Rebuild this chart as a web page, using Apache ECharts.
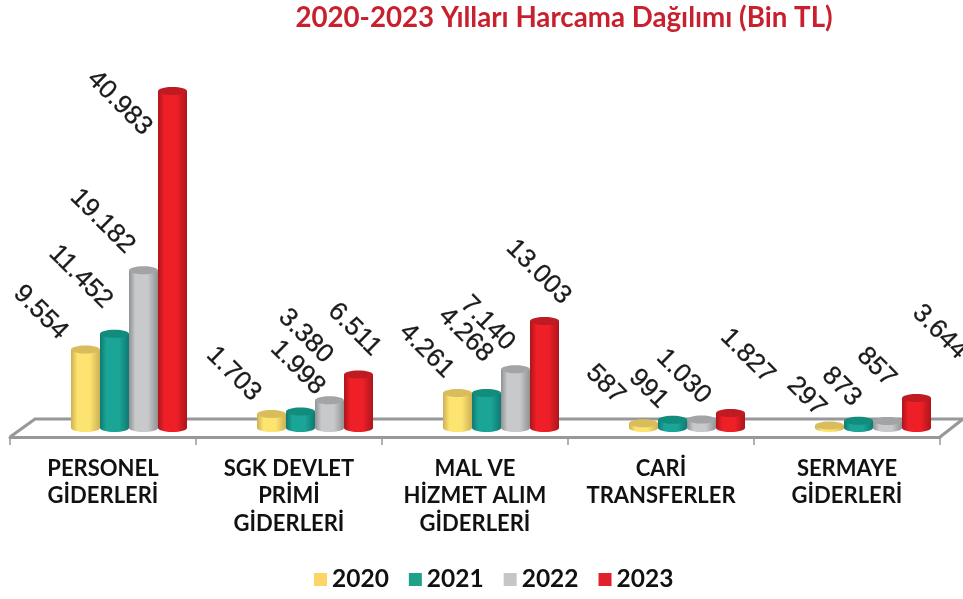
<!DOCTYPE html>
<html>
<head>
<meta charset="utf-8">
<script src="https://cdn.jsdelivr.net/npm/echarts@6/dist/echarts.min.js"></script>
<style>html,body{margin:0;padding:0;background:#fff}#chart{width:963px;height:599px}</style>
</head>
<body>
<div id="chart"></div>
<script>
const CATEGORIES = ['PERSONEL\nGİDERLERİ', 'SGK DEVLET\nPRİMİ\nGİDERLERİ', 'MAL VE\nHİZMET ALIM\nGİDERLERİ', 'CARİ\nTRANSFERLER', 'SERMAYE\nGİDERLERİ'];
const YEARS = ['2020', '2021', '2022', '2023'];
const VALUES_2020 = [9554, 1703, 4261, 587, 297];
const VALUES_2021 = [11452, 1998, 4268, 991, 873];
const VALUES_2022 = [19182, 3380, 7140, 1030, 857];
const VALUES_2023 = [40983, 6511, 13003, 1827, 3644];

// colours per series: legend, cylinder edge, cylinder middle, lid
const COLORS = [
    ['#fdd466', '#cdb055', '#fde36f', '#d9bd5c'],
    ['#1fa088', '#0e7a72', '#1ba596', '#128c7c'],
    ['#c5c6c8', '#8f9193', '#c8c9cb', '#a2a4a6'],
    ['#e0202a', '#ad151b', '#ee1f27', '#c01a22']
];

// the value labels sit by hand in the original, so each has its own nudge from the bar top
const LABEL_NUDGE = [
    [[-45, -37], [-38, -40], [-31, -42], [-38, -39], [-23, -29]],
    [[-34, -57], [-3, -44], [-21, -58], [-24, -31], [-17, -34]],
    [[-41, -49], [-24, -64], [-28, -46], [-18, -43], [-11, -54]],
    [[-53, 12], [-4, -45], [-6, -49], [17, -57], [23, -66]]
];

const FONT = 'Lato';
const LABEL_FONT = '"Liberation Sans"';
const BAR_W = 29;
const RX = 14.5;
const RY = 4;
const DEPTH_X = 26;  // floor perspective shift
const DEPTH_Y = -9;

function formatValue(v) {
    return String(v).replace(/\B(?=(\d{3})+$)/g, '.');
}

function cylinder(s) {
    return function (params, api) {
        const cat = api.value(0);
        const val = api.value(1);
        const base = api.coord([cat, 0]);
        const top = api.coord([cat, val]);
        const cx = base[0] + DEPTH_X + (s - 1.5) * BAR_W;
        const y0 = base[1] + DEPTH_Y;
        const y1 = top[1] + DEPTH_Y;
        const nudge = LABEL_NUDGE[s][cat];
        const fill = new echarts.graphic.LinearGradient(0, 0, 1, 0, [
            {offset: 0, color: COLORS[s][1]},
            {offset: 0.22, color: COLORS[s][2]},
            {offset: 0.65, color: COLORS[s][2]},
            {offset: 1, color: COLORS[s][1]}
        ]);
        return {
            type: 'group',
            children: [
                {type: 'ellipse', shape: {cx: cx, cy: y0, rx: RX, ry: RY}, style: {fill: fill}},
                {type: 'rect', shape: {x: cx - RX, y: y1, width: RX * 2, height: y0 - y1}, style: {fill: fill}},
                {type: 'ellipse', shape: {cx: cx, cy: y1, rx: RX, ry: RY}, style: {fill: COLORS[s][3]}},
                {
                    type: 'text',
                    x: cx + nudge[0],
                    y: y1 + nudge[1],
                    rotation: -Math.PI / 4,
                    z2: 10,
                    style: {
                        text: formatValue(val),
                        fontFamily: LABEL_FONT,
                        fontSize: 26,
                        fill: '#1a1a1a',
                        stroke: '#1a1a1a',
                        lineWidth: 0.3,
                        textAlign: 'center',
                        textVerticalAlign: 'middle'
                    }
                }
            ]
        };
    };
}

const myChart = echarts.init(document.getElementById('chart'));
const allValues = [VALUES_2020, VALUES_2021, VALUES_2022, VALUES_2023];

myChart.setOption({
    backgroundColor: '#fff',
    animation: false,
    title: {
        text: '2020-2023 Yılları Harcama Dağılımı (Bin TL)',
        left: 559,
        top: -1,
        textAlign: 'center',
        textStyle: {fontFamily: FONT, fontSize: 27.7, fontWeight: 'bold', color: '#c8202e'}
    },
    legend: {
        left: 314,
        top: 567,
        icon: 'rect',
        itemWidth: 13,
        itemHeight: 13,
        itemGap: 20,
        padding: 0,
        data: YEARS,
        textStyle: {fontFamily: FONT, fontSize: 24.5, fontWeight: 'bold', color: '#111'}
    },
    grid: {left: 10, right: 23, top: 67, bottom: 162},
    xAxis: {
        type: 'category',
        data: CATEGORIES,
        axisLine: {lineStyle: {color: '#96989a', width: 3}},
        axisTick: {show: true, length: 8, alignWithLabel: false, lineStyle: {color: '#96989a', width: 1.5}},
        axisLabel: {
            interval: 0,
            margin: 18,
            fontFamily: FONT,
            fontSize: 22,
            fontWeight: 'bold',
            color: '#111',
            lineHeight: 27.5
        }
    },
    yAxis: {type: 'value', min: 0, max: 45000, show: false, splitLine: {show: false}},
    graphic: [
        {
            type: 'polyline',
            z: 0,
            shape: {points: [[10, 437], [35, 419], [963, 419]]},
            style: {stroke: '#96989a', lineWidth: 3, fill: null}
        },
        {
            type: 'line',
            z: 0,
            shape: {x1: 940, y1: 437, x2: 963, y2: 419},
            style: {stroke: '#96989a', lineWidth: 3}
        }
    ],
    series: YEARS.map((year, s) => ({
        name: year,
        type: 'custom',
        z: 5,
        clip: false,
        itemStyle: {color: COLORS[s][0]},
        encode: {x: 0, y: 1},
        renderItem: cylinder(s),
        data: allValues[s].map((v, i) => [i, v])
    }))
});
</script>
</body>
</html>
